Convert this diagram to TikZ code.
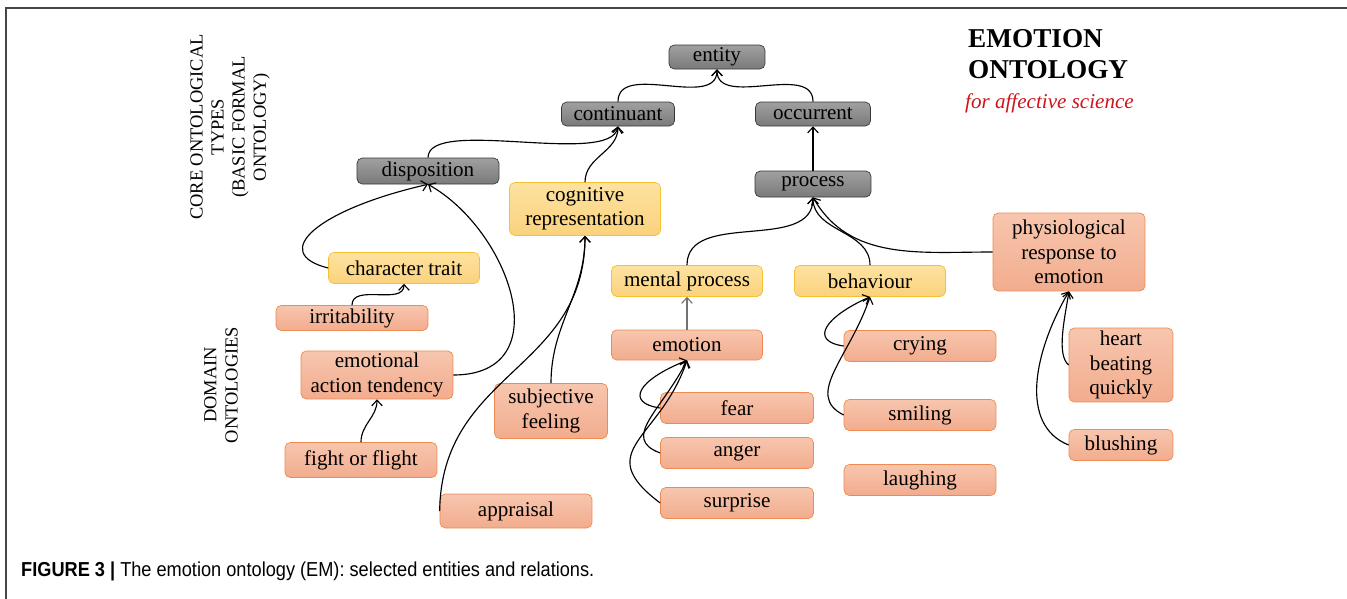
\documentclass[tikz,border=0pt]{standalone}
\usepackage{fontspec}
\setmainfont{Liberation Serif}
\newfontfamily\capfont[FakeStretch=0.9]{Liberation Sans}
\usetikzlibrary{arrows.meta,positioning}
\definecolor{coretop}{RGB}{160,160,160}
\definecolor{corebot}{RGB}{122,122,122}
\definecolor{coreedge}{RGB}{55,55,55}
\definecolor{midtop}{RGB}{253,226,160}
\definecolor{midbot}{RGB}{251,210,125}
\definecolor{midedge}{RGB}{245,192,52}
\definecolor{domtop}{RGB}{247,198,174}
\definecolor{dombot}{RGB}{242,172,142}
\definecolor{domedge}{RGB}{239,138,80}
\definecolor{emored}{RGB}{204,20,28}
\definecolor{framegray}{RGB}{70,70,70}

\begin{document}
\begin{tikzpicture}[
    x=0.02cm, y=0.02cm,
    box/.style={rounded corners=3pt, align=center, inner sep=1pt, font=\fontsize{12}{13.8}\selectfont},
    corebox/.style={box, draw=coreedge, top color=coretop, bottom color=corebot, minimum height=0.48cm},
    midbox/.style={box, draw=midedge, top color=midtop, bottom color=midbot, minimum height=0.62cm},
    dombox/.style={box, draw=domedge, top color=domtop, bottom color=dombot, minimum height=0.62cm},
    isa/.style={-{Straight Barb[length=3.2pt,width=6pt]}, line width=0.65pt},
    sidelabel/.style={rotate=90, align=center, font=\fontsize{10.5}{12}\selectfont}
]
\useasboundingbox (0,0) rectangle (1347,-599);

% Frame
\draw[framegray, line width=1.1pt] (5,-8) -- (1347,-8);
\draw[framegray, line width=1.1pt] (6,-8) -- (6,-599);

% Title
\node[anchor=north west, align=left, font=\bfseries\fontsize{15.5}{18}\selectfont] (title) at (962,-23) {EMOTION\\ONTOLOGY};
\node[anchor=base west, text=emored, font=\itshape\fontsize{12}{14}\selectfont] (subtitle) at (959,-108) {for affective science};

% Side labels
\node[sidelabel] (coretypes) at (230,-127) {CORE ONTOLOGICAL\\TYPES\\(BASIC FORMAL\\ONTOLOGY)};
\node[sidelabel] (domains) at (221,-385) {DOMAIN\\ONTOLOGIES};

% Core ontological types
\node[corebox, minimum width=1.92cm] (entity) at (717,-57) {entity};
\node[corebox, minimum width=2.26cm] (continuant) at (618,-114) {continuant};
\node[corebox, minimum width=2.30cm] (occurrent) at (813,-114) {occurrent};
\node[corebox, minimum width=2.84cm, minimum height=0.52cm] (disposition) at (428,-171) {disposition};
\node[corebox, minimum width=2.32cm, minimum height=0.52cm] (process) at (813,-184) {process};

% Mid-level types
\node[midbox, minimum width=3.02cm, minimum height=1.06cm] (cogrep) at (585,-209) {cognitive\\representation};
\node[midbox, minimum width=3.02cm] (chartrait) at (404,-268) {character trait};
\node[midbox, minimum width=3.02cm] (mentalproc) at (687,-281) {mental process};
\node[midbox, minimum width=3.02cm] (behaviour) at (870,-281) {behaviour};

% Domain entities
\node[dombox, minimum width=3.04cm, minimum height=1.56cm] (physio) at (1069,-252) {physiological\\response to\\emotion};
\node[dombox, minimum width=3.04cm, minimum height=0.5cm] (irritability) at (352,-318) {irritability};
\node[dombox, minimum width=3.04cm, minimum height=0.96cm] (eat) at (377,-375) {emotional\\action tendency};
\node[dombox, minimum width=3.02cm, minimum height=0.6cm] (emotion) at (687,-345) {emotion};
\node[dombox, minimum width=3.04cm] (crying) at (920,-346) {crying};
\node[dombox, minimum width=2.08cm, minimum height=1.48cm] (heart) at (1121,-365) {heart\\beating\\quickly};
\node[dombox, minimum width=2.26cm, minimum height=1.1cm] (subfeel) at (551,-411) {subjective\\feeling};
\node[dombox, minimum width=3.06cm] (fear) at (737,-408) {fear};
\node[dombox, minimum width=3.04cm] (smiling) at (920,-415) {smiling};
\node[dombox, minimum width=3.06cm] (anger) at (737,-453) {anger};
\node[dombox, minimum width=2.08cm] (blushing) at (1121,-445) {blushing};
\node[dombox, minimum width=3.04cm, minimum height=0.7cm] (fightflight) at (361,-460) {fight or flight};
\node[dombox, minimum width=3.04cm] (laughing) at (920,-480) {laughing};
\node[dombox, minimum width=3.06cm] (surprise) at (737,-503) {surprise};
\node[dombox, minimum width=3.04cm, minimum height=0.68cm] (appraisal) at (516,-511) {appraisal};

% is-a links
\draw[isa] (continuant.north) to[out=90,in=-90] (entity.south);
\draw[isa] (occurrent.north) to[out=90,in=-90] (entity.south);
\draw[isa] (process) -- (occurrent);
\draw[isa] (disposition.north) to[out=90,in=-100,looseness=0.55] (continuant.south);
\draw[isa] (cogrep.north) to[out=90,in=-90] (continuant.south);
\draw[isa] (chartrait.west) .. controls +(-60,15) and +(-110,-25) .. (disposition.south);
\draw[isa] (eat.east) .. controls +(107,0) and +(82,-46) .. (disposition.south);
\draw[isa] (irritability.north) to[out=90,in=-90] (chartrait.south);
\draw[isa] (fightflight.north) to[out=90,in=-90] (eat.south);
\draw[isa] (appraisal.west) .. controls +(2,140) and +(0,-135) .. (cogrep.south);
\draw[isa] (subfeel.north) to[out=90,in=-90] (cogrep.south);
\draw[isa] (mentalproc.north) to[out=90,in=-90] (process.south);
\draw[isa] (behaviour.north) to[out=90,in=-90] (process.south);
\draw[isa] (physio.west) to[out=180,in=-60] (process.south);
\draw[isa, draw=black!55] (emotion) -- (mentalproc);
\draw[isa] (fear.west) .. controls +(-35,5) and +(-50,-20) .. (emotion.south);
\draw[isa] (anger.west) .. controls +(-40,15) and +(-25,-50) .. (emotion.south);
\draw[isa] (surprise.west) .. controls +(-70,53) and +(-27,-80) .. (emotion.south);
\draw[isa] (crying.west) .. controls +(-35,5) and +(-45,-20) .. (behaviour.south);
\draw[isa] (smiling.west) .. controls +(-40,20) and +(-20,-60) .. (behaviour.south);
\draw[isa] (heart.west) .. controls +(-12,10) and +(-5,-30) .. (physio.south);
\draw[isa] (blushing.west) .. controls +(-50,20) and +(-35,-60) .. (physio.south);

% Caption
\node[anchor=base west, font=\capfont\fontsize{11.5}{13}\selectfont] (caption) at (15,-576) {\textbf{FIGURE 3 |} The emotion ontology (EM): selected entities and relations.};
\end{tikzpicture}
\end{document}
